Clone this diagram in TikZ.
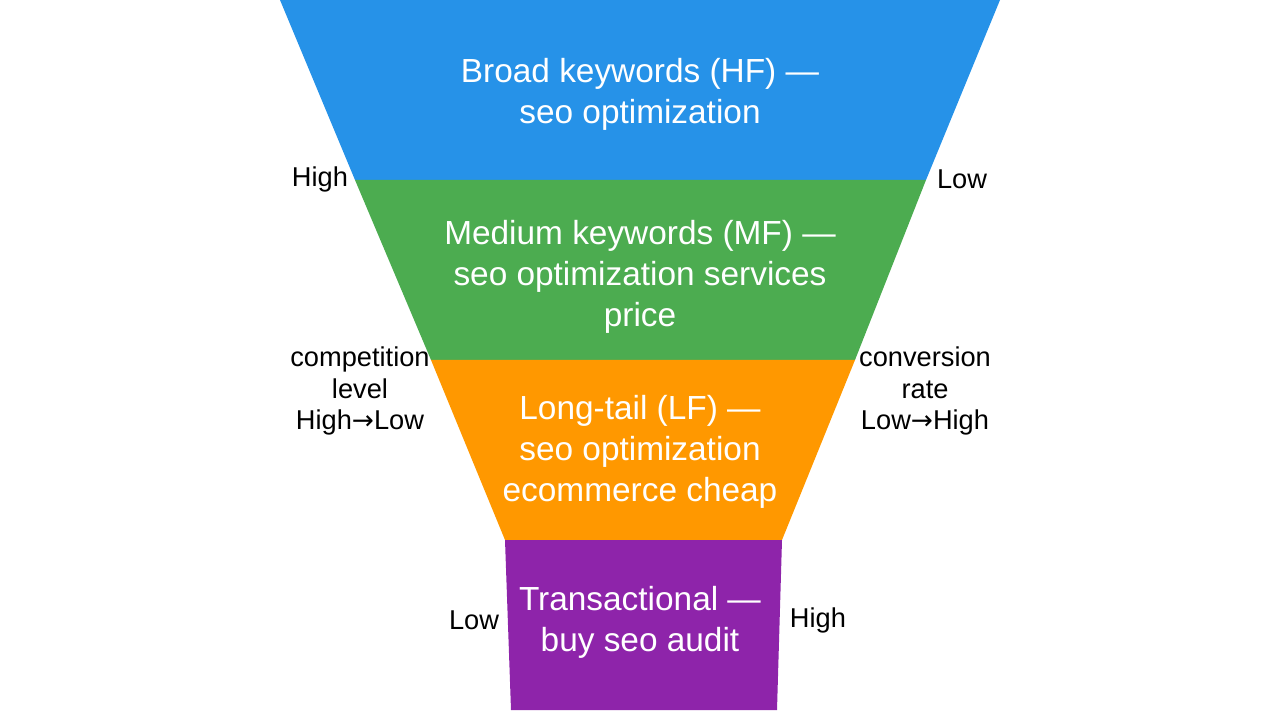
\documentclass[tikz,border=0pt]{standalone}
\usepackage{fontspec}
\setmainfont{Liberation Sans}
\newfontfamily\arrowfont{DejaVu Sans}
\usepackage{tikz}
\usetikzlibrary{positioning,calc}
\definecolor{hfblue}{RGB}{38,146,232}
\definecolor{mfgreen}{RGB}{76,172,80}
\definecolor{lforange}{RGB}{255,152,0}
\definecolor{trpurple}{RGB}{142,36,170}
\newcommand{\toarr}{{\arrowfont\fontsize{15}{17.6}\selectfont →}}
\tikzset{
  bandtext/.style={font=\fontsize{19}{23.2}\selectfont,text=white,align=center},
  sidetext/.style={font=\fontsize{15.5}{17.8}\selectfont,text=black,align=center}
}

\begin{document}
\begin{tikzpicture}[x=0.2mm,y=-0.2mm]
    \useasboundingbox (0,0) rectangle (1280,720);
    % funnel bands, widest on top
    \fill[hfblue] (280,0) -- (1000,0) -- (926,180) -- (355,180) -- cycle;
    \fill[mfgreen] (355,180) -- (926,180) -- (855,360) -- (431,360) -- cycle;
    \fill[lforange] (431,360) -- (855,360) -- (782,540) -- (505,540) -- cycle;
    \fill[trpurple] (505,540) -- (782,540) -- (777,710) -- (511,710) -- cycle;
    % band labels
    \node[bandtext] (hf) at (640,94) {Broad keywords (HF) —\\seo optimization};
    \node[bandtext] (mf) at (640,277)
      {Medium keywords (MF) —\\seo optimization services\\price};
    \node[bandtext] (lf) at (640,452)
      {Long-tail (LF) —\\seo optimization\\ecommerce cheap};
    \node[bandtext] (tr) at (640,622) {Transactional —\\buy seo audit};
    % competition level on the left, conversion rate on the right
    \node[sidetext] (comptop) at (320,179) {High};
    \node[sidetext] (convtop) at (962,179) {Low};
    \node[sidetext] (comp) at (360,391) {competition\\level\\High\toarr Low};
    \node[sidetext] (conv) at (925,391) {conversion\\rate\\Low\toarr High};
    \node[sidetext] (compbot) at (474,620) {Low};
    \node[sidetext] (convbot) at (818,620) {High};
  \end{tikzpicture}
\end{document}
